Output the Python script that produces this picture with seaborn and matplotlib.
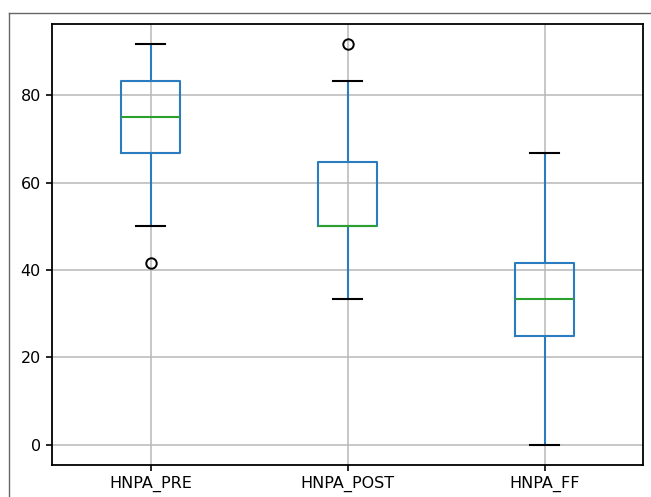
import matplotlib
matplotlib.use("Agg")
import matplotlib.pyplot as plt
from matplotlib.lines import Line2D
import seaborn as sns
import pandas as pd

categories = ["HNPA_PRE", "HNPA_POST", "HNPA_FF"]
hnpa_pre = [41.67, 50, 58.33, 66.67, 66.67, 75, 75, 75, 83.33, 83.33, 83.33, 91.67, 91.67]
hnpa_post = [33.33, 50, 50, 50, 50, 50, 58.33, 66.67, 83.33, 91.67]
hnpa_ff = [0, 8.33, 16.67, 25, 25, 33.33, 33.33, 33.33, 41.67, 41.67, 50, 58.33, 66.67]

rows = []
for cat, vals in zip(categories, [hnpa_pre, hnpa_post, hnpa_ff]):
    for v in vals:
        rows.append({"variable": cat, "value": v})
df = pd.DataFrame(rows)

plt.rcParams["font.family"] = ["DejaVu Sans"]
fig = plt.figure(figsize=(6.51, 4.97), dpi=100)
ax = fig.add_axes([52/651, 1-465/497, (643-52)/651, (465-24)/497])

blue = "#2a7bc0"
lw = 1.5
sns.boxplot(data=df, x="variable", y="value", order=categories, ax=ax,
            fill=False, color=blue, width=0.3, linewidth=lw,
            boxprops=dict(color=blue, linewidth=lw),
            whiskerprops=dict(color=blue, linewidth=lw),
            capprops=dict(color="black", linewidth=lw),
            medianprops=dict(color="#2ca02c", linewidth=lw),
            flierprops=dict(marker="o", markerfacecolor="none",
                            markeredgecolor="black", markersize=7.5,
                            markeredgewidth=1.4))
ax.set_xlabel("")
ax.set_ylabel("")
ax.grid(True, color="#b8b8b8", linewidth=1.1)
ax.set_axisbelow(True)
ax.set_yticks([0, 20, 40, 60, 80])
ax.tick_params(labelsize=11.5, width=1.2, length=4.5)
ax.set_ylim(-4.58, 96.25)
ax.set_xlim(-0.5, 2.5)
for s in ax.spines.values():
    s.set_color("black")
    s.set_linewidth(1.3)

# screenshot border
fig.add_artist(Line2D([9/651, 9/651], [0, 1-13/497], color="#666666", linewidth=1, transform=fig.transFigure))
fig.add_artist(Line2D([9/651, 1], [1-13/497, 1-13/497], color="#666666", linewidth=1, transform=fig.transFigure))

fig.savefig("out.png", dpi=100)
